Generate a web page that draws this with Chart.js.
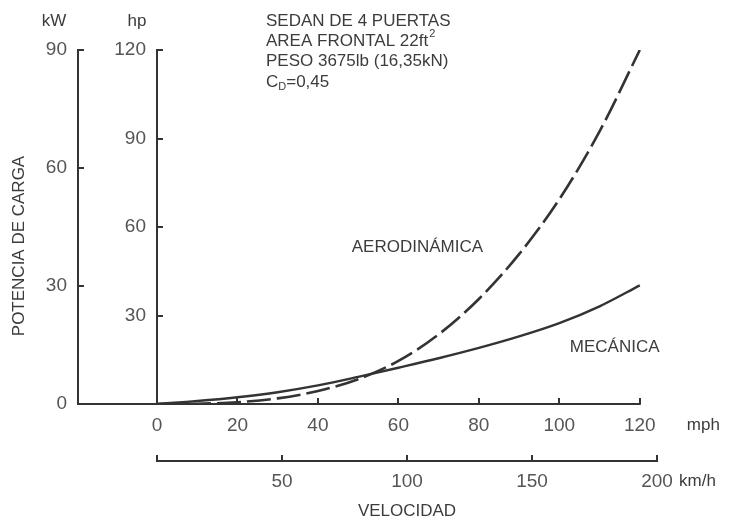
<!DOCTYPE html>
<html>
<head>
<meta charset="utf-8">
<title>Potencia de carga</title>
<script src="https://cdn.jsdelivr.net/npm/chart.js@4.4.1/dist/chart.umd.min.js"></script>
<style>
  html, body { margin: 0; padding: 0; background: #fff; }
  #wrap { width: 731px; height: 526px; position: relative; }
</style>
</head>
<body>
<div id="wrap"><canvas id="chart"></canvas></div>
<script>
// road load power vs speed, in hp
const speedMph = [0, 10, 20, 30, 40, 50, 60, 70, 80, 90, 100, 110, 120];
const aeroHp = [0, 0.1, 0.6, 1.9, 4.4, 8.4, 14.6, 23.6, 35.6, 50.8, 69.4, 92.4, 120];
const mechHp = [0, 1.0, 2.3, 4.0, 6.3, 9.2, 12.3, 15.5, 19.0, 22.9, 27.4, 33.1, 40.2];

// axis ticks
const mphTicks = [0, 20, 40, 60, 80, 100, 120];
const kmhTicks = [0, 50, 100, 150, 200];
const kwTicks = [0, 30, 60, 90];
const hpTicks = [0, 30, 60, 90, 120];

const specs = [
  { text: "SEDAN DE 4 PUERTAS" },
  { text: "AREA FRONTAL 22ft", sup: "2" },
  { text: "PESO 3675lb (16,35kN)" },
  { text: "C", sub: "D", rest: "=0,45" },
];

const KM_PER_MILE = 1.609344;
const FAMILY = "'Liberation Sans', Arial, sans-serif";
const lineColor = "#333";
const textColor = "#3c3c3c";
const tickColor = "#555";
const TEXT = "17px " + FAMILY;
const SMALL = "11px " + FAMILY;

Chart.defaults.font.family = FAMILY;

const setTicks = (values) => (scale) => {
  scale.ticks = values.map((v) => ({ value: v }));
};

const annotations = {
  id: "annotations",
  afterDraw(chart) {
    const { ctx, chartArea, scales } = chart;
    const { x, kmh, hp, kw } = scales;
    const lastMph = x.getPixelForValue(mphTicks[mphTicks.length - 1]);
    ctx.save();

    // baseline under both power axes, stopping at the last mph tick
    ctx.strokeStyle = lineColor;
    ctx.lineWidth = 2;
    ctx.beginPath();
    ctx.moveTo(kw.right, chartArea.bottom);
    ctx.lineTo(lastMph + 1, chartArea.bottom);
    ctx.stroke();

    ctx.fillStyle = textColor;
    ctx.textBaseline = "middle";
    ctx.font = TEXT;

    // unit labels
    ctx.textAlign = "center";
    ctx.fillText("kW", kw.right - 24, chartArea.top - 29);
    ctx.fillText("hp", hp.right - 20, chartArea.top - 29);
    ctx.textAlign = "left";
    ctx.fillText("mph", lastMph + 47, chartArea.bottom + 21);
    ctx.fillText("km/h", kmh.right + 22, kmh.top + 20);

    // vehicle data block
    const bx = x.left + 109;
    specs.forEach((s, i) => {
      const y = chartArea.top - 29 + i * 20.3;
      ctx.font = TEXT;
      ctx.fillText(s.text, bx, y);
      let cx = bx + ctx.measureText(s.text).width;
      if (s.sup) {
        ctx.font = SMALL;
        ctx.fillText(s.sup, cx + 1, y - 7);
      }
      if (s.sub) {
        ctx.font = SMALL;
        ctx.fillText(s.sub, cx, y + 5);
        cx += ctx.measureText(s.sub).width;
        ctx.font = TEXT;
        ctx.fillText(s.rest, cx, y);
      }
    });

    // curve labels
    ctx.font = TEXT;
    ctx.fillText("AERODINÁMICA", x.getPixelForValue(48.4), hp.getPixelForValue(53.2));
    ctx.fillText("MECÁNICA", x.getPixelForValue(102.6), hp.getPixelForValue(19.3));

    // power axis title
    ctx.translate(kw.left + 19, (chartArea.top + chartArea.bottom) / 2 + 19);
    ctx.rotate(-Math.PI / 2);
    ctx.textAlign = "center";
    ctx.fillText("POTENCIA DE CARGA", 0, 0);

    ctx.restore();
  },
};

const axisBase = {
  type: "linear",
  border: { display: true, color: lineColor, width: 2 },
  grid: { drawOnChartArea: false, tickLength: -6, color: lineColor, lineWidth: 2 },
};

new Chart(document.getElementById("chart"), {
  type: "line",
  data: {
    datasets: [
      {
        label: "AERODINÁMICA",
        data: speedMph.map((v, i) => ({ x: v, y: aeroHp[i] })),
        yAxisID: "hp",
        borderColor: lineColor,
        borderWidth: 2.6,
        borderDash: [24, 6],
        pointRadius: 0,
        cubicInterpolationMode: "monotone",
      },
      {
        label: "MECÁNICA",
        data: speedMph.map((v, i) => ({ x: v, y: mechHp[i] })),
        yAxisID: "hp",
        borderColor: lineColor,
        borderWidth: 2.4,
        pointRadius: 0,
        cubicInterpolationMode: "monotone",
      },
    ],
  },
  options: {
    responsive: true,
    maintainAspectRatio: false,
    animation: false,
    layout: { padding: { top: 50, right: 74, bottom: 0, left: 0 } },
    plugins: { legend: { display: false }, tooltip: { enabled: false } },
    scales: {
      x: {
        ...axisBase,
        position: "bottom",
        weight: 0,
        min: 0,
        max: kmhTicks[kmhTicks.length - 1] / KM_PER_MILE,
        border: { display: false },
        afterBuildTicks: setTicks(mphTicks),
        afterFit: (s) => { s.height = 57; },
        ticks: { padding: 16, color: tickColor, font: { size: 19 } },
      },
      kmh: {
        ...axisBase,
        position: "bottom",
        weight: 1,
        min: 0,
        max: kmhTicks[kmhTicks.length - 1],
        afterBuildTicks: setTicks(kmhTicks),
        afterFit: (s) => { s.height = 65; },
        ticks: {
          padding: 15,
          color: tickColor,
          font: { size: 19 },
          callback: (v) => (v === 0 ? "" : v),
        },
        title: {
          display: true,
          text: "VELOCIDAD",
          color: textColor,
          font: { size: 17 },
          padding: { top: 0, bottom: 4 },
        },
      },
      hp: {
        ...axisBase,
        position: "left",
        weight: 0,
        min: 0,
        max: hpTicks[hpTicks.length - 1],
        afterBuildTicks: setTicks(hpTicks),
        afterFit: (s) => { s.width = 79; },
        ticks: {
          padding: 17,
          color: tickColor,
          font: { size: 19 },
          callback: (v) => (v === 0 ? "" : v),
        },
      },
      kw: {
        ...axisBase,
        position: "left",
        weight: 1,
        min: 0,
        max: kwTicks[kwTicks.length - 1],
        afterBuildTicks: setTicks(kwTicks),
        afterFit: (s) => { s.width = 78; },
        ticks: { padding: 17, color: tickColor, font: { size: 19 } },
      },
    },
  },
  plugins: [annotations],
});
</script>
</body>
</html>
